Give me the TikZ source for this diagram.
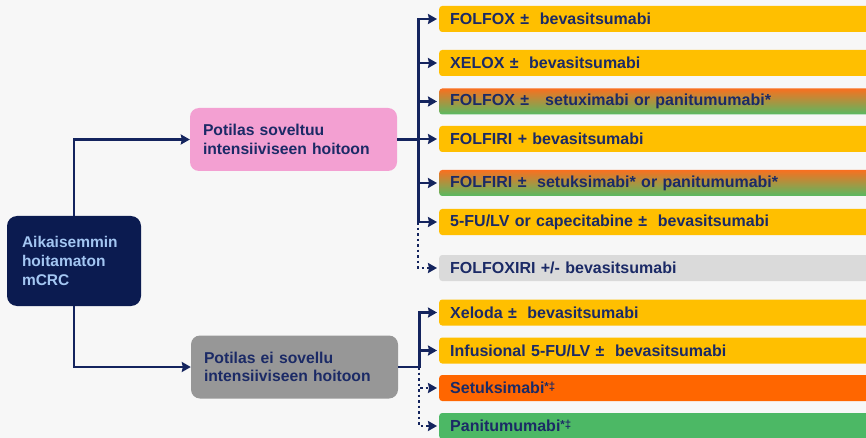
\documentclass[tikz,border=0pt]{standalone}
\usepackage{fontspec}
\setmainfont{Liberation Sans}
\usepackage{tikz}
\usepackage{xcolor}
\usetikzlibrary{arrows.meta}
\definecolor{page-bg}{HTML}{F7F7F7}
\definecolor{navy-line}{HTML}{14245E}
\definecolor{navy-text}{HTML}{1B2A66}
\definecolor{navy-box}{HTML}{0B1B50}
\definecolor{light-blue}{HTML}{A3C6F2}
\definecolor{pink-box}{HTML}{F3A0D2}
\definecolor{gray-box}{HTML}{979797}
\definecolor{amber}{HTML}{FFBF00}
\definecolor{light-gray}{HTML}{DADADA}
\definecolor{egfr-orange}{HTML}{FF6600}
\definecolor{egfr-green}{HTML}{4CB865}
\definecolor{grad-top}{HTML}{F87020}
\definecolor{grad-bottom}{HTML}{58BA62}
\colorlet{grad-mid}{grad-bottom!70!grad-top}
\newcommand{\notemark}{\raisebox{3pt}{\fontsize{11.5}{12}\selectfont *‡}}
\tikzset{
    big-box/.style = {rounded corners=9pt, align=left, font=\bfseries\fontsize{15.7}{18.3}\selectfont, text=navy-text, inner xsep=13pt, text width=181pt, minimum height=63pt},
    start-box/.style = {big-box, fill=navy-box, text=light-blue, inner xsep=15pt, text width=104pt, minimum height=90pt, rounded corners=10pt, font=\bfseries\fontsize{15.5}{19}\selectfont},
    bar/.style = {anchor=west, rounded corners=3pt, minimum height=26pt, inner xsep=11pt, text width=420pt, align=left, font=\bfseries\fontsize{16}{18}\selectfont, text=navy-text},
    bar-amber/.style = {bar, fill=amber},
    bar-gray/.style = {bar, fill=light-gray},
    bar-orange/.style = {bar, fill=egfr-orange},
    bar-green/.style = {bar, fill=egfr-green},
    bar-mixed/.style = {bar, top color=grad-top, middle color=grad-mid, bottom color=grad-bottom},
    link/.style = {draw=navy-line, line width=2.8pt},
    link-arrow/.style = {link, -{Stealth[length=9pt,width=10pt,inset=1pt]}},
    link-dotted/.style = {link-arrow, line width=2.5pt, dash pattern=on 2.5pt off 3pt},
}

\begin{document}
\begin{tikzpicture}[x=1pt,y=-1pt]
\useasboundingbox (0,0) rectangle (866,438);
\fill[page-bg] (0,0) rectangle (866,438);

\node[start-box] (start) at (74,261) {Aikaisemmin\\hoitamaton\\mCRC};
\node[big-box, fill=pink-box] (fit) at (293.5,139.5) {Potilas soveltuu\\intensiiviseen hoitoon};
\node[big-box, fill=gray-box] (unfit) at (294.5,367) {Potilas ei sovellu\\intensiiviseen hoitoon};

\node[bar-amber] (folfox-bev) at (439,19) {FOLFOX ±\ \ bevasitsumabi};
\node[bar-amber] (xelox-bev) at (439,63) {XELOX ±\ \ bevasitsumabi};
\node[bar-mixed] (folfox-egfr) at (439,101.5) {FOLFOX ±\ \ \ setuximabi or panitumumabi*};
\node[bar-amber] (folfiri-bev) at (439,139) {FOLFIRI + bevasitsumabi};
\node[bar-mixed] (folfiri-egfr) at (439,183) {FOLFIRI ±\ \ setuksimabi* or panitumumabi*};
\node[bar-amber] (fu-bev) at (439,222) {5-FU/LV or capecitabine ±\ \ bevasitsumabi};
\node[bar-gray] (folfoxiri) at (439,268) {FOLFOXIRI +/- bevasitsumabi};

\node[bar-amber] (xeloda) at (439,312.5) {Xeloda ±\ \ bevasitsumabi};
\node[bar-amber] (infusional) at (439,350.5) {Infusional 5-FU/LV ±\ \ bevasitsumabi};
\node[bar-orange] (cetux) at (439,388) {Setuksimabi\notemark};
\node[bar-green] (panit) at (439,426) {Panitumumabi\notemark};

\coordinate (fit-split) at ([xshift=21pt]fit.east);
\coordinate (unfit-split) at ([xshift=21pt]unfit.east);

\draw[link-arrow] (start.north) |- (fit.west);
\draw[link-arrow] (start.south) |- (unfit.west);

\foreach \target in {folfox-bev, xelox-bev, folfox-egfr, folfiri-bev, folfiri-egfr, fu-bev}
    \draw[link-arrow, shorten >=2pt] (fit.east) -- (fit-split) |- (\target.west);
\draw[link-dotted, shorten >=2pt] (fit-split |- fu-bev.west) |- (folfoxiri.west);

\foreach \target in {xeloda, infusional}
    \draw[link-arrow, shorten >=2pt] (unfit.east) -- (unfit-split) |- (\target.west);
\foreach \target in {cetux, panit}
    \draw[link-dotted, shorten >=2pt] (unfit-split) |- (\target.west);
\end{tikzpicture}
\end{document}
